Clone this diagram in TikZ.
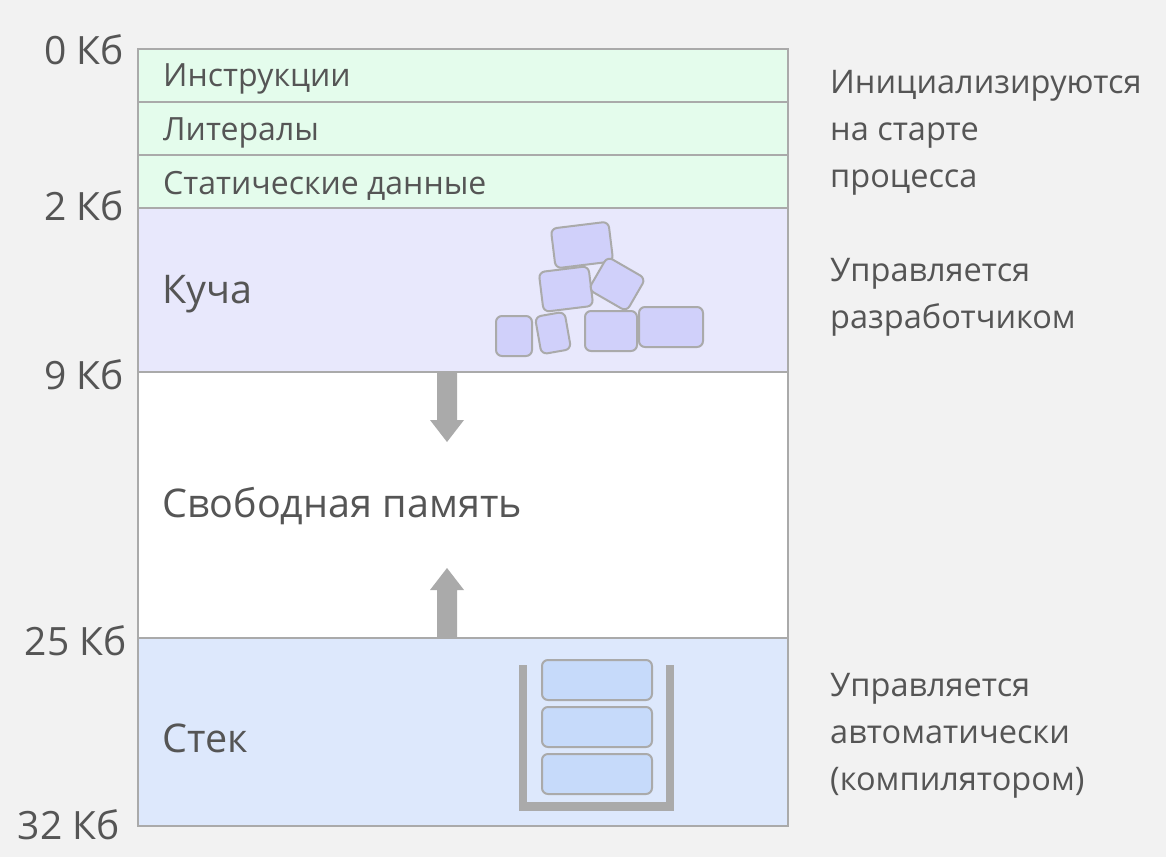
\documentclass[tikz,border=0pt]{standalone}
\usepackage{fontspec}
\setmainfont{Open Sans}
\begin{document}
\begin{tikzpicture}[x=1pt,y=-1pt,
  seg/.style={draw=lineg,line width=2.5pt},
  lab/.style={anchor=west,text=txt,inner sep=0pt},
  kb/.style={anchor=east,text=txt,inner sep=0pt,font=\fontsize{39}{42}\selectfont},
  note/.style={anchor=north west,text=txt,inner sep=0pt,align=left,font=\fontsize{32.5}{47}\selectfont},
  hb/.style={draw=lineg,line width=2pt,fill=heapb,rounded corners=6pt},
  sb/.style={draw=lineg,line width=2pt,fill=stackb,rounded corners=6pt},
  wall/.style={fill=lineg,draw=none}]
\definecolor{bg}{HTML}{F2F2F2}
\definecolor{lineg}{HTML}{AAAAAA}
\definecolor{txt}{HTML}{555555}
\definecolor{greenf}{HTML}{E4FCEC}
\definecolor{heapf}{HTML}{E8E8FC}
\definecolor{stackf}{HTML}{DDE8FC}
\definecolor{heapb}{HTML}{D0D0FA}
\definecolor{stackb}{HTML}{C6DAFA}
\fill[bg] (0,0) rectangle (1166,857);
\useasboundingbox (0,0) rectangle (1166,857);
\path[seg,fill=greenf] (138,49) rectangle (788,102);
\path[seg,fill=greenf] (138,102) rectangle (788,155);
\path[seg,fill=greenf] (138,155) rectangle (788,208);
\path[seg,fill=heapf] (138,208) rectangle (788,372);
\path[seg,fill=white] (138,372) rectangle (788,638);
\path[seg,fill=stackf] (138,638) rectangle (788,826);
\node[lab,font=\fontsize{32}{34}\selectfont] (i1) at (163,79) {Инструкции};
\node[lab,font=\fontsize{32}{34}\selectfont] (i2) at (163,133) {Литералы};
\node[lab,font=\fontsize{32}{34}\selectfont] (i3) at (163,186) {Статические данные};
\node[lab,font=\fontsize{39.5}{42}\selectfont] (heap) at (162,294) {Куча};
\node[lab,font=\fontsize{39.5}{42}\selectfont] (free) at (162,506) {Свободная память};
\node[lab,font=\fontsize{39.5}{42}\selectfont] (stack) at (162,738) {Стек};
\node[kb] (k0) at (124,50) {0 Кб};
\node[kb] (k2) at (124,206) {2 Кб};
\node[kb] (k9) at (124,375) {9 Кб};
\node[kb] (k25) at (127,641) {25 Кб};
\node[kb] (k32) at (120,825) {32 Кб};
\node[note] (n1) at (830,70) {Инициализируются\\на старте\\процесса};
\node[note] (n2) at (830,258) {Управляется\\разработчиком};
\node[note] (n3) at (830,673) {Управляется\\автоматически\\(компилятором)};
% arrows
\fill[lineg] (437,372) -- (457,372) -- (457,420) -- (464,420) -- (447,442) -- (430,420) -- (437,420) -- cycle;
\fill[lineg] (437,638) -- (457,638) -- (457,590) -- (464,590) -- (447,568) -- (430,590) -- (437,590) -- cycle;
% heap blocks
\node[hb,minimum width=58pt,minimum height=40pt,rotate=7] (b1) at (582,245) {};
\node[hb,minimum width=50pt,minimum height=40pt,rotate=7] (b2) at (566,289) {};
\node[hb,minimum width=44pt,minimum height=38pt,rotate=-30] (b3) at (617,284) {};
\node[hb,minimum width=36pt,minimum height=40pt] (b4) at (514,336) {};
\node[hb,minimum width=30pt,minimum height=38pt,rotate=10] (b5) at (553,333) {};
\node[hb,minimum width=52pt,minimum height=40pt] (b6) at (611,331) {};
\node[hb,minimum width=64pt,minimum height=40pt] (b7) at (671,327) {};
% stack container
\fill[wall] (519,665) rectangle (527,811);
\fill[wall] (666,665) rectangle (674,811);
\fill[wall] (519,802) rectangle (674,811);
\node[sb,minimum width=110pt,minimum height=40pt] (s1) at (597,680) {};
\node[sb,minimum width=110pt,minimum height=40pt] (s2) at (597,727) {};
\node[sb,minimum width=110pt,minimum height=40pt] (s3) at (597,774) {};
\end{tikzpicture}
\end{document}
